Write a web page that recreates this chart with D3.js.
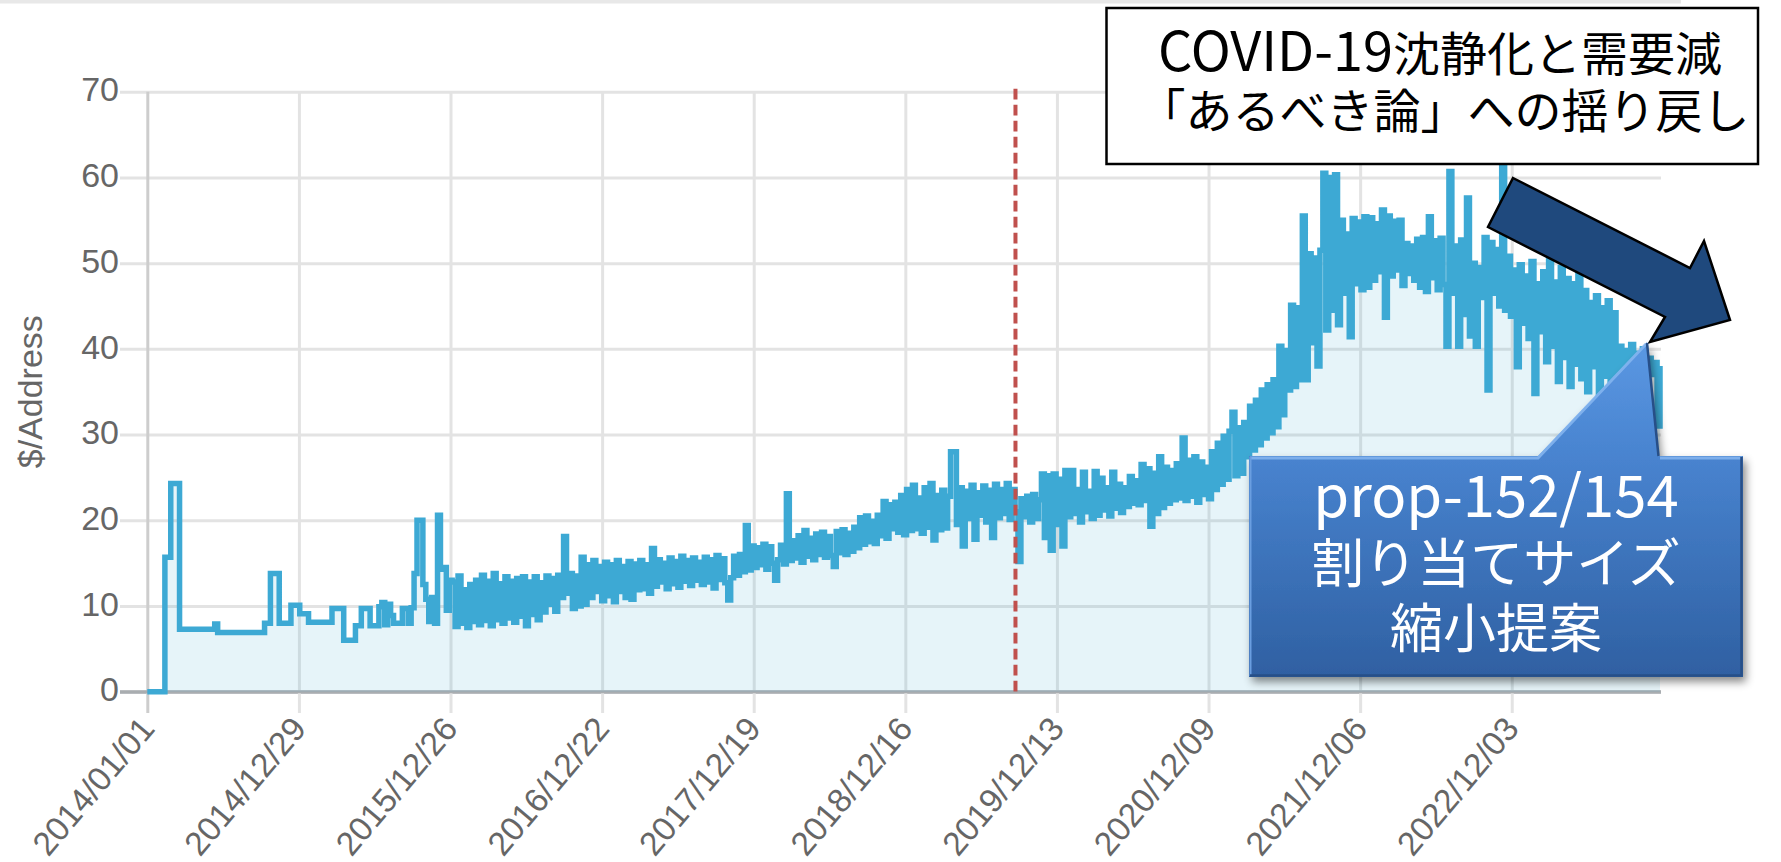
<!DOCTYPE html>
<html><head><meta charset="utf-8">
<script src="https://cdn.jsdelivr.net/npm/d3@7"></script>
<style>html,body{margin:0;padding:0;background:#fff;overflow:hidden}svg{display:block}</style>
</head><body><svg id="c" width="1781" height="862"></svg>
<script>
// ---------------- data ----------------
const startDate = "2014-01-01";
const stepDays = 7; // one value per week
const values = [
// 2014
0,0,0,0,0,0, 15.7,15.7, 24.3,24.3,24.3,
7.3,7.3,7.3,7.3,7.3,7.3,7.3,7.3,7.3,7.3,7.3,7.3, 7.9,
6.9,6.9,6.9,6.9,6.9,6.9,6.9,6.9,6.9,6.9,6.9,6.9,6.9,6.9,6.9,6.9,
8.0,8.0, 13.8,13.8,13.8, 8.0,8.0,8.0,8.0, 10.1,10.1,10.1,
// 2015
9.1,9.1,9.1, 8.1,8.1,8.1,8.1,8.1,8.1,8.1,8.1, 9.7,9.7,9.7,9.7, 6.0,6.0,6.0,6.0, 7.7,7.7,
9.7,9.7,9.7, 7.7,7.7,7.7, 9.9,10.4,7.8,10.2,8.9, 8.0,8.0,8.0, 9.7,9.7, 8.0,9.8, 13.8, 20.0,20.0,
12.5,10.8,8.2,11.0,8.0, 20.6,14.3, 14.5,9.5,13.0,
// 2016
12.8,7.6,13.5,8.0,11.9,7.5,12.5,8.2,13.0,7.8,
13.6,8.3,12.9,7.7,13.8,8.4,12.6,8.0,13.4,8.6,12.9,
8.1,13.2,8.8,13.4,7.7,12.8,9.0,13.4,8.4,12.7,9.3,
13.5,10.2,13.2,9.4,13.6,11.0, 18.1,11.5, 13.8,9.7,13.5,10.0,
15.7,10.2,14.8,11.0, 15.3,11.7,14.6,10.6,
// 2017
15.1,11.2,14.8,10.5,15.3,11.7,14.6,11.0,15.2,10.8,14.9,11.9,15.3,12.0,14.8,11.5,
16.7,12.3,15.4,12.8,15.0,12.0,15.6,12.6,15.2,12.2,15.8,12.9,15.3,12.4,15.6,13.0,
15.1,12.5,15.7,12.8,15.4,12.1,15.9,13.1,15.5,12.7,10.7,13.3,15.8,13.6,16.0,14.0,
19.4,14.2, 17.0,14.5,
// 2018
16.8,14.8,17.2,14.3,16.9,15.0,13.0,15.4,17.1,14.9, 23.1,
15.3,17.6,15.6,18.2,15.1,18.8,15.8,17.9,15.4,18.4,16.0,18.6,15.7,18.1,15.9,14.6,18.7,16.2,18.9,16.0,18.5,16.4,19.2,16.8,
20.3,17.2,20.5,17.5,19.9,17.3,20.6, 18.2,22.2,17.9,21.8,19.0,22.1, 18.6,22.9,18.3,23.6,
// 2019
18.8,24.1,19.0,22.6,18.5,23.8,19.2,24.3,17.7,22.9,18.9,23.5,19.1, 22.8, 28.0,28.0,19.5,
23.8,17.0,23.4,20.2,24.1,17.8,23.2,20.6,24.0,19.8,23.5,18.0,24.2,20.3,23.6,20.8,24.3,20.1,
23.6,21.0, 15.2,22.5, 20.4,22.8,19.8,23.0,20.2,22.4, 25.4,18.0,25.2,16.5,25.4,19.5,24.8,
// 2020
17.0,25.8,
20.4,25.8,20.8,23.6,19.8,25.6,21.0,23.4,20.2,25.7,20.6,24.9,21.2,23.8,20.5,25.6,21.4,24.2,20.9,23.8,21.6,25.1,22.0,24.6,21.8,26.5,22.3,
26.0,19.3,25.5,20.8,27.4,21.5,26.2,22.0,25.8,22.4,26.6,
22.6,29.6,22.3,27.0,22.8,27.4,22.1,26.8,23.0,26.2,22.5,28.0,
// 2021
23.6,29.0,24.2,29.8,24.8,30.4,32.6,25.2,30.8,25.5,31.4,
27.4,33.3,28.2,34.0,28.8,35.2,29.6,35.8,30.2,36.4,30.9,
40.3,32.3,39.8,35.2, 45.1,35.6,44.8,36.4, 55.5,36.4, 51.1,40.7,50.6,38.0,51.5,
60.5,42.2,60.0,44.5,60.3,42.8, 55.0,46.5,53.4,41.4,55.2,47.6,54.8,46.9,55.4,
// 2022
47.2,55.3,48.0,54.6,49.0,56.2,43.7,55.5,48.5,54.9,49.2,55.0,47.4,52.3,48.8,52.0,
48.0,52.8,47.2,53.0,46.7,55.4,48.3,52.6,46.9,52.9,47.5, 40.3, 60.7,46.5,52.0,
40.3,52.7,44.0,57.6,41.5,50.0,40.3,49.5, 46.0,53.0,35.2,52.4,46.5,51.6, 45.0,61.3,
44.5,50.8,43.8,49.2,37.9,
// 2023
49.8,43.0,48.5,41.2,50.2,34.8,47.6,42.0,49.0,
38.5,50.4,40.3,47.8,36.2,49.5,39.0,48.2,35.6,47.6,38.2,48.8,
36.5,46.8,35.0,45.4,37.9,46.2,34.2,44.8,36.8,45.6,34.0,44.2,36.0,
40.3,34.5,39.8,35.2,40.5,34.0,39.5,35.8,40.0,
36.0,38.9,37.0,38.4,31.0,38.0
];
const tickLabels = ["2014/01/01","2014/12/29","2015/12/26","2016/12/22","2017/12/19","2018/12/16","2019/12/13","2020/12/09","2021/12/06","2022/12/03"];
const yTicks = [0,10,20,30,40,50,60,70];
const yTitle = "$/Address";
const markerDate = "2019-09-05";
const note1Latin = "COVID-19";
const note1Rest = "沈静化と需要減";
const note1Line2 = "「あるべき論」への揺り戻し";
const note2Lines = ["prop-152/154","割り当てサイズ","縮小提案"];

// ---------------- build ----------------
const parseISO = d3.utcParse("%Y-%m-%d");
const parseTick = d3.utcParse("%Y/%m/%d");
const t0 = parseISO(startDate);
const data = values.map((v,i)=>({date:d3.utcDay.offset(t0, i*stepDays), v}));

const L = 147.3, R = 1660, T = 91.7, B = 691.7;
const x = d3.scaleUtc().domain([data[0].date, data[data.length-1].date]).range([L, R]);
const y = d3.scaleLinear().domain([0,70]).range([B, T]);

const svg = d3.select("#c");
const defs = svg.append("defs");
const g1 = defs.append("linearGradient").attr("id","cg").attr("x1",0).attr("y1",0).attr("x2",0).attr("y2",1);
g1.append("stop").attr("offset","0%").attr("stop-color","#5b98e3");
g1.append("stop").attr("offset","35%").attr("stop-color","#4883cf");
g1.append("stop").attr("offset","100%").attr("stop-color","#2f60a2");
const f = defs.append("filter").attr("id","sh").attr("x","-10%").attr("y","-10%").attr("width","130%").attr("height","130%");
f.append("feDropShadow").attr("dx",3).attr("dy",5).attr("stdDeviation",4).attr("flood-color","#000").attr("flood-opacity",0.45);

// top page strip
svg.append("rect").attr("x",0).attr("y",0).attr("width",1681).attr("height",3.5).attr("fill","#e8e8e8");

// horizontal gridlines
const yAxis = d3.axisLeft(y).tickValues(yTicks).tickSize(-(R+1 - 120)).tickPadding(1).tickFormat(d3.format("d"));
const gy = svg.append("g").attr("transform","translate(120,0)").call(yAxis);
gy.select(".domain").remove();
gy.selectAll("line").attr("stroke", d=> d===0 ? "#a9adb0" : "#e3e3e3").attr("stroke-width",3);
gy.selectAll("text").attr("fill","#666").attr("font-family","'Liberation Sans', Arial, sans-serif")
  .attr("font-size",34).attr("dy","0.27em");

// vertical gridlines
const xTicks = tickLabels.map(s=>parseTick(s));
const xAxis = d3.axisBottom(x).tickValues(xTicks).tickSize(-(713 - T)).tickFormat("");
const gx = svg.append("g").attr("transform","translate(0,713)").call(xAxis);
gx.select(".domain").remove();
gx.selectAll("line").attr("stroke",(d,i)=> i===0 ? "#cdcdcd" : "#e3e3e3").attr("stroke-width",3);
// baseline on top of vertical lines
svg.append("line").attr("x1",120).attr("x2",R+1).attr("y1",y(0)).attr("y2",y(0)).attr("stroke","#a9adb0").attr("stroke-width",3);

// x tick labels
svg.append("g").selectAll("text").data(tickLabels).join("text")
  .attr("transform", s=>`translate(${x(parseTick(s))},722) rotate(-50)`)
  .attr("text-anchor","end").attr("dominant-baseline","central")
  .attr("fill","#666").attr("font-family","'Liberation Sans', Arial, sans-serif").attr("font-size",33.5)
  .text(s=>s);

// y title
svg.append("text").attr("transform",`translate(42,${(T+B)/2}) rotate(-90)`).attr("text-anchor","middle")
  .attr("fill","#666").attr("font-family","'Liberation Sans', Arial, sans-serif").attr("font-size",34).text(yTitle);

// area + line
const area = d3.area().curve(d3.curveStepAfter).x(d=>x(d.date)).y0(y(0)).y1(d=>y(d.v));
const line = d3.line().curve(d3.curveStepAfter).x(d=>x(d.date)).y(d=>y(d.v));
svg.append("path").datum(data).attr("d",area).attr("fill","rgba(61,169,212,0.13)");
svg.append("path").datum(data).attr("d",line).attr("fill","none").attr("stroke","#3da9d4").attr("stroke-width",5.5).attr("stroke-linejoin","miter");

// red dashed marker
const mx = x(parseISO(markerDate));
svg.append("line").attr("x1",mx).attr("x2",mx).attr("y1",T-3).attr("y2",B)
  .attr("stroke","#c0504d").attr("stroke-width",4).attr("stroke-dasharray","10.7 5.3");

// annotation box 1
svg.append("rect").attr("x",1106.5).attr("y",8).attr("width",651.5).attr("height",156)
  .attr("fill","#fff").attr("stroke","#000").attr("stroke-width",2.5);
const jp = "'Noto Sans CJK JP','Noto Sans CJK SC',sans-serif";
const t1 = svg.append("text").attr("x",1440).attr("y",71).attr("text-anchor","middle").attr("font-family",jp).attr("fill","#000");
t1.append("tspan").attr("font-size",54).text(note1Latin);
t1.append("tspan").attr("font-size",47).text(note1Rest);
svg.append("text").attr("x",1444).attr("y",128).attr("text-anchor","middle").attr("font-family",jp).attr("font-size",47).attr("fill","#000").text(note1Line2);

// dark arrow
svg.append("polygon")
  .attr("points","1513,178 1690,268 1704,241 1730,320 1650,342 1665,317 1488,227")
  .attr("fill","#1f497d").attr("stroke","#000").attr("stroke-width",2.5).attr("stroke-linejoin","miter");

// callout 2
const cg = svg.append("g");
cg.append("path").attr("d","M1249,456 L1538,456 L1647,342 L1659,456 L1743,456 L1743,677 L1249,677 Z")
  .attr("fill","url(#cg)").attr("filter","url(#sh)");
cg.append("path").attr("d","M1250,458 H1538 L1646,344 M1660,458 H1742").attr("fill","none").attr("stroke","#86b6f0").attr("stroke-width",3).attr("opacity",0.85);
cg.append("path").attr("d","M1250.5,457 V676").attr("fill","none").attr("stroke","#6a9ee0").attr("stroke-width",2);
cg.append("path").attr("d","M1250,675.5 H1741.5 V457 M1647,343 L1658.5,456").attr("fill","none").attr("stroke","#274f88").attr("stroke-width",2.5);
const cy = [517, 583, 648];
note2Lines.forEach((s,i)=>{
  cg.append("text").attr("x",1496).attr("y",cy[i]).attr("text-anchor","middle").attr("font-family",jp)
    .attr("font-size", i===0 ? 58 : 53).attr("fill","#fff").text(s);
});
</script>
</body></html>
